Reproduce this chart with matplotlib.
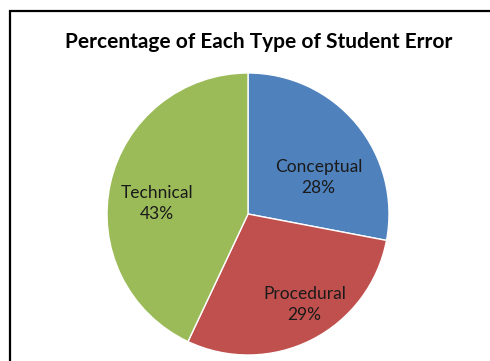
import matplotlib.pyplot as plt
from matplotlib.patches import Rectangle

# data
categories = ['Conceptual', 'Procedural', 'Technical']
percentages = [28, 29, 43]
colors = ['#4F81BD', '#C0504D', '#9BBB59']

plt.rcParams['font.family'] = ['Lato', 'DejaVu Sans']

fig = plt.figure(figsize=(4.9, 3.61), dpi=100)
W, H = 490, 361

# chart border (cut off at right and bottom like the reference)
fig.patches.append(Rectangle((10 / W, -0.1), 1.2, (H - 11) / H + 0.1,
                             transform=fig.transFigure, fill=False,
                             edgecolor='black', linewidth=1.6))

cx, cy, r = 248, 214, 141
ax = fig.add_axes([(cx - r) / W, (H - cy - r) / H, 2 * r / W, 2 * r / H])
ax.pie(percentages, colors=colors, startangle=90, counterclock=False,
       wedgeprops={'edgecolor': 'white', 'linewidth': 1.0})
ax.set_xlim(-1, 1)
ax.set_ylim(-1, 1)
ax.set_aspect('equal')
ax.axis('off')

# label positions in pie units (radius = 1)
label_pos = [(0.50, 0.26), (0.40, -0.64), (-0.645, 0.075)]
for name, pct, (x, y) in zip(categories, percentages, label_pos):
    ax.text(x, y, f'{name}\n{pct}%', ha='center', va='center',
            fontsize=12.5, color='#1a1a1a', linespacing=1.35)

fig.text(259 / W, 1 - 42 / H, 'Percentage of Each Type of Student Error',
         ha='center', va='center', fontsize=15, fontweight='bold')

fig.savefig('out.png', dpi=100)
